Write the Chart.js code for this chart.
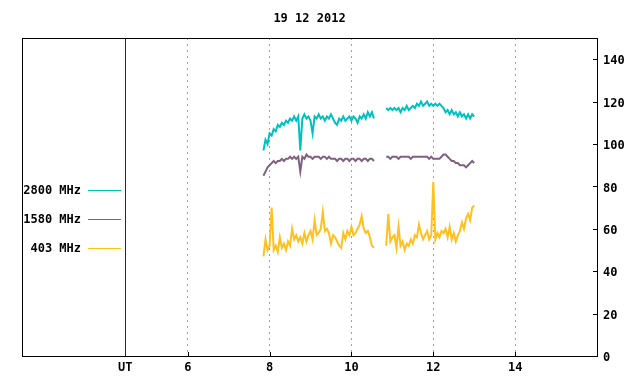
<!DOCTYPE html>
<html>
<head>
<meta charset="utf-8">
<script src="https://cdn.jsdelivr.net/npm/chart.js@4/dist/chart.umd.min.js"></script>
<style>
  html, body { margin: 0; padding: 0; background: #ffffff; }
</style>
</head>
<body>
<canvas id="rfChart" width="640" height="384"></canvas>
<script>
// 観測時刻 (UT, 時)  10.70 は欠測区間
const hours = [
  7.85, 7.90, 7.95, 8.00, 8.05, 8.10, 8.15, 8.20, 8.25, 8.30, 8.35, 8.40, 8.45, 8.50,
  8.55, 8.60, 8.65, 8.70, 8.75, 8.80, 8.85, 8.90, 8.95, 9.00, 9.05, 9.10, 9.15, 9.20,
  9.25, 9.30, 9.35, 9.40, 9.45, 9.50, 9.55, 9.60, 9.65, 9.70, 9.75, 9.80, 9.85, 9.90,
  9.95, 10.00, 10.05, 10.10, 10.15, 10.20, 10.25, 10.30, 10.35, 10.40, 10.45, 10.50, 10.55,
  10.70,
  10.85, 10.90, 10.95, 11.00, 11.05, 11.10, 11.15, 11.20, 11.25, 11.30, 11.35, 11.40,
  11.45, 11.50, 11.55, 11.60, 11.65, 11.70, 11.75, 11.80, 11.85, 11.90, 11.95, 12.00,
  12.05, 12.10, 12.15, 12.20, 12.25, 12.30, 12.35, 12.40, 12.45, 12.50, 12.55, 12.60,
  12.65, 12.70, 12.75, 12.80, 12.85, 12.90, 12.95, 13.00
];

const flux2800 = [
  97, 102, 100, 105, 104, 107, 106, 109, 108, 110, 109, 111, 110, 112,
  111, 113, 111, 113, 97, 112, 114, 112, 113, 111, 105, 113, 112, 114,
  112, 113, 111, 113, 112, 114, 112, 110, 109, 112, 111, 113, 111, 112,
  113, 111, 113, 112, 110, 113, 112, 114, 112, 115, 113, 115, 112,
  null,
  117, 116, 117, 116, 117, 116, 117, 115, 117, 116, 118, 116,
  117, 118, 117, 119, 118, 120, 118, 119, 120, 118, 119, 118,
  119, 118, 119, 118, 117, 115, 116, 114, 116, 114, 115, 113,
  115, 113, 114, 112, 114, 112, 114, 113
];

const flux1580 = [
  85, 87, 89, 90, 91, 92, 91, 92, 92, 93, 92, 93, 93, 94,
  93, 94, 93, 94, 87, 94, 93, 95, 94, 94, 93, 94, 94, 94,
  93, 94, 94, 93, 94, 93, 93, 93, 92, 93, 93, 92, 93, 93,
  92, 93, 93, 92, 93, 93, 92, 93, 93, 92, 93, 93, 92,
  null,
  94, 94, 93, 94, 94, 94, 93, 94, 94, 94, 94, 94,
  93, 94, 94, 94, 94, 94, 94, 94, 94, 93, 94, 93,
  93, 93, 93, 94, 95, 95, 94, 93, 92, 92, 91, 91,
  90, 90, 90, 89, 90, 91, 92, 91
];

const flux403 = [
  47, 55, 50, 52, 70, 50, 52, 49, 56, 51, 53, 50, 54, 52,
  60, 55, 57, 54, 56, 53, 58, 54, 57, 59, 55, 64, 57, 58,
  60, 68, 59, 60, 58, 53, 57, 56, 54, 52, 51, 58, 55, 59,
  57, 61, 57, 58, 60, 62, 66, 60, 58, 59, 56, 52, 51,
  null,
  52, 67, 54, 56, 57, 51, 61, 52, 54, 50, 53, 52,
  55, 53, 57, 56, 62, 58, 55, 57, 59, 55, 57, 82,
  55, 58, 56, 59, 58, 60, 56, 61, 55, 58, 54, 57,
  59, 63, 60, 65, 67, 64, 70, 71
];

const seriesLabels = ['2800 MHz', '1580 MHz', '403 MHz'];
const utHour = 4.47;
const xTickValues = [utHour, 6, 8, 10, 12, 14];
const xTickLabels = ['UT', '6', '8', '10', '12', '14'];
const yTickValues = [0, 20, 40, 60, 80, 100, 120, 140];

const monoFont = { family: '"DejaVu Sans Mono", monospace', size: 12, weight: 'bold' };

function toPoints(values) {
  return hours.map((h, i) => ({ x: h, y: values[i] }));
}

// 枠・UT線・内向き目盛り・凡例を描くプラグイン
const gnuplotDecor = {
  id: 'gnuplotDecor',
  afterDatasetsDraw(chart) {
    const { ctx, chartArea: a, scales } = chart;
    ctx.save();
    // UT line
    const ux = Math.round(scales.x.getPixelForValue(utHour)) + 0.5;
    ctx.strokeStyle = '#8b0000';
    ctx.lineWidth = 1;
    ctx.beginPath();
    ctx.moveTo(ux, a.top);
    ctx.lineTo(ux, a.bottom);
    ctx.stroke();
    // border
    ctx.strokeStyle = '#000000';
    ctx.strokeRect(Math.round(a.left) + 0.5, Math.round(a.top) + 0.5,
      Math.round(a.right - a.left), Math.round(a.bottom - a.top));
    // inward tick marks
    ctx.beginPath();
    yTickValues.forEach(v => {
      const y = Math.round(scales.y.getPixelForValue(v)) + 0.5;
      ctx.moveTo(a.right - 4, y);
      ctx.lineTo(a.right, y);
    });
    xTickValues.slice(1).forEach(v => {
      const x = Math.round(scales.x.getPixelForValue(v)) + 0.5;
      ctx.moveTo(x, a.bottom - 4);
      ctx.lineTo(x, a.bottom);
    });
    ctx.stroke();
    // legend
    ctx.font = 'bold 12px "DejaVu Sans Mono", monospace';
    ctx.textAlign = 'right';
    ctx.textBaseline = 'middle';
    chart.data.datasets.forEach((ds, i) => {
      const y = 190 + i * 29;
      ctx.fillStyle = '#000000';
      ctx.fillText(ds.label, 81, y + 1);
      ctx.strokeStyle = ds.borderColor;
      ctx.lineWidth = 1;
      ctx.beginPath();
      ctx.moveTo(88, y + 0.5);
      ctx.lineTo(121, y + 0.5);
      ctx.stroke();
    });
    ctx.restore();
  }
};

const ctx = document.getElementById('rfChart').getContext('2d');

const rfChart = new Chart(ctx, {
  type: 'line',
  data: {
    datasets: [
      { label: seriesLabels[0], data: toPoints(flux2800), borderColor: '#00c0c0' },
      { label: seriesLabels[1], data: toPoints(flux1580), borderColor: '#806080' },
      { label: seriesLabels[2], data: toPoints(flux403), borderColor: '#ffc020' }
    ]
  },
  options: {
    responsive: false,
    animation: false,
    spanGaps: false,
    elements: {
      line: { borderWidth: 2, tension: 0 },
      point: { radius: 0 }
    },
    layout: { padding: { left: 22, right: 0, top: 0, bottom: 0 } },
    plugins: {
      legend: { display: false },
      tooltip: { enabled: false },
      title: {
        display: true,
        text: '19 12 2012',
        color: '#000000',
        font: monoFont,
        fullSize: false,
        padding: { top: 12, bottom: 11.6 }
      }
    },
    scales: {
      x: {
        type: 'linear',
        min: 1.95,
        max: 16,
        afterBuildTicks: scale => { scale.ticks = xTickValues.map(v => ({ value: v })); },
        afterFit: scale => { scale.height = 28; },
        ticks: {
          color: '#000000',
          font: monoFont,
          padding: 5,
          maxRotation: 0,
          autoSkip: false,
          callback: value => xTickLabels[xTickValues.indexOf(value)]
        },
        grid: {
          drawTicks: false,
          color: c => (c.tick && c.tick.value === utHour) ? 'rgba(0,0,0,0)' : '#a0a0a0'
        },
        border: { display: false, dash: [2, 4] }
      },
      y: {
        position: 'right',
        min: 0,
        max: 150,
        afterBuildTicks: scale => { scale.ticks = yTickValues.map(v => ({ value: v })); },
        afterFit: scale => { scale.width = 43; },
        ticks: { color: '#000000', font: monoFont, padding: 6, labelOffset: 2 },
        grid: { drawOnChartArea: false, drawTicks: false },
        border: { display: false }
      }
    }
  },
  plugins: [gnuplotDecor]
});
</script>
</body>
</html>
